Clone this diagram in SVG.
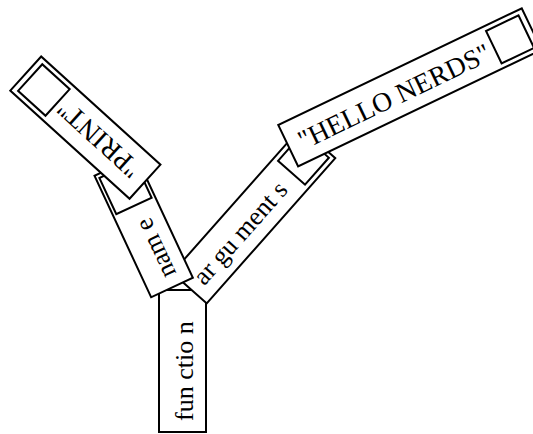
<svg xmlns="http://www.w3.org/2000/svg" width="533" height="434" viewBox="0 0 533 434">
<style>
.blk{fill:#fff;stroke:#000;stroke-width:2}
.sock{fill:none;stroke:#000;stroke-width:2}
.lbl{font-family:"Liberation Serif","Times New Roman",serif;font-size:26px;fill:#000}
.big{font-size:27.5px}
</style>
<rect width="533" height="434" fill="#fff"/>
<g id="connectors"/>
<g id="node-function" transform="translate(182.5,432) rotate(-90)">
<rect class="blk" x="0" y="-23.5" width="142" height="47"/>
<text class="lbl" x="11" y="10.5">fun ctio n</text>
</g>
<g id="node-arguments" transform="translate(189.5,288.1) rotate(-48.5)">
<rect class="blk" x="0" y="-23" width="194" height="46"/>
<rect class="sock" x="154" y="-18" width="36" height="36"/>
<text class="lbl" x="11" y="10">ar gu ment s</text>
</g>
<g id="node-name" transform="translate(172,287.5) rotate(-115)">
<rect class="blk" x="0" y="-23" width="134" height="46"/>
<rect class="sock" x="90" y="-19.5" width="40" height="39"/>
<text class="lbl" x="11" y="10">nam e</text>
</g>
<g id="node-hello" transform="translate(288.2,145.7) rotate(-25.6)">
<rect class="blk" x="0" y="-23" width="270" height="46"/>
<rect class="sock" x="228" y="-18" width="36" height="36"/>
<text class="lbl big" x="12" y="10.5">"HELLO NERDS"</text>
</g>
<g id="node-print" transform="translate(145,181.7) rotate(-137.8)">
<rect class="blk" x="0" y="-23" width="161" height="46"/>
<rect class="sock" x="118" y="-18" width="37" height="36"/>
<text class="lbl big" x="12" y="10">"PRINT"</text>
</g>
</svg>
